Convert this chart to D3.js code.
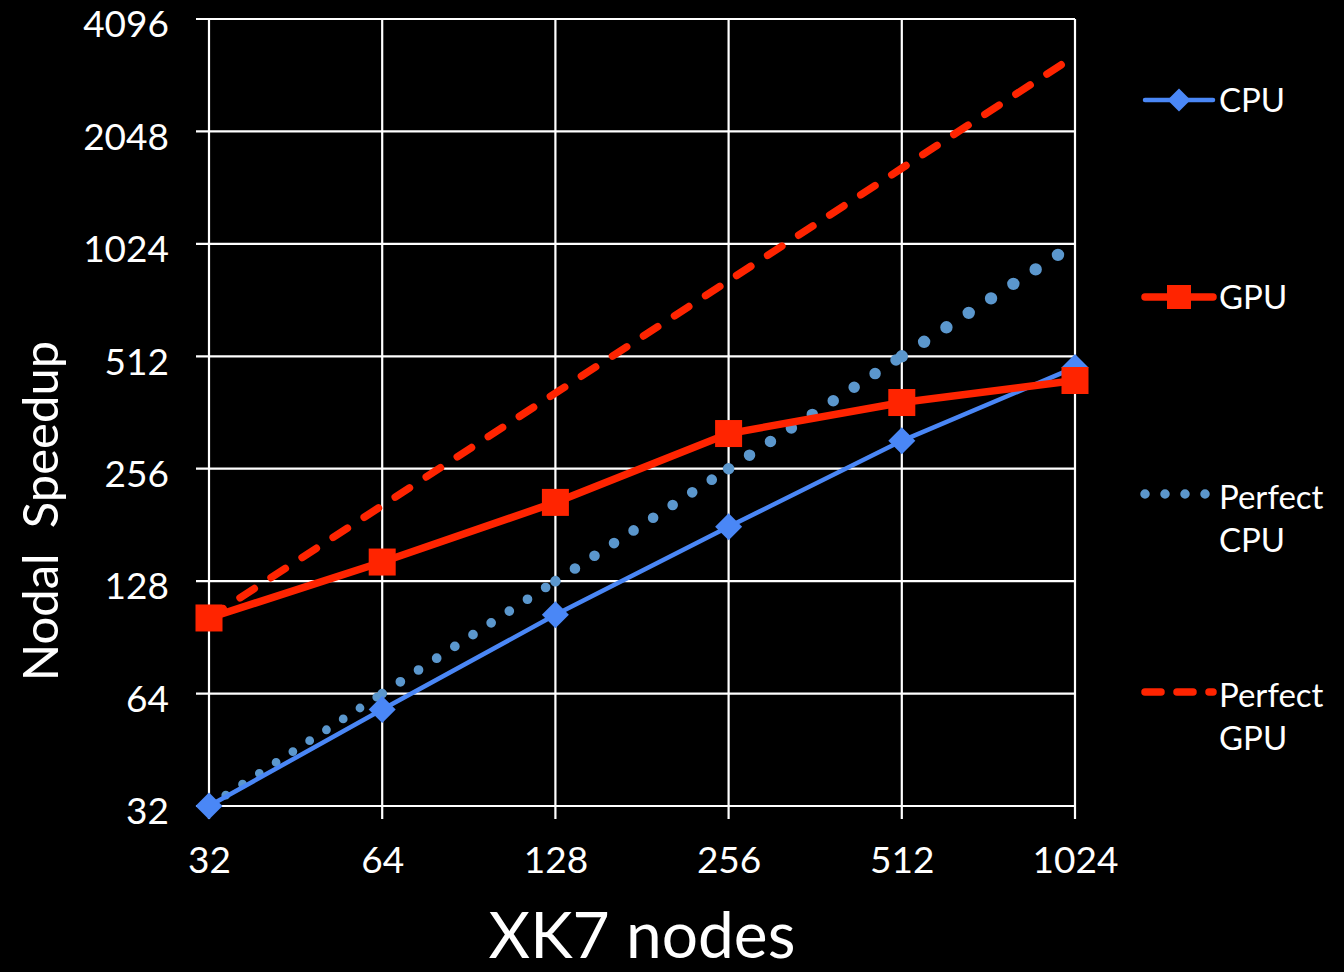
<!DOCTYPE html>
<html>
<head>
<meta charset="utf-8">
<script src="https://cdn.jsdelivr.net/npm/d3@7"></script>
<style>
  html, body { margin: 0; padding: 0; background: #000; }
  svg { display: block; font-family: Lato, "Open Sans", sans-serif; }
</style>
</head>
<body>
<svg id="chart" width="1344" height="972"></svg>
<script>
// XK7 node counts and measured nodal speedups
const nodes = [32, 64, 128, 256, 512, 1024];
const cpuSpeedup = [32, 58, 104, 179, 304, 478];
const gpuSpeedup = [102, 144, 208, 318, 385, 441];
// ideal scaling from the 32-node baseline of each series
const perfectCpu = [32, 64, 128, 256, 512, 1024];
const perfectGpu = [102, 204, 408, 816, 1632, 3264];
const yTicks = [32, 64, 128, 256, 512, 1024, 2048, 4096];
const legendLabels = [["CPU"], ["GPU"], ["Perfect", "CPU"], ["Perfect", "GPU"]];

const BLUE = "#4A87F6", DOT = "#5B97CD", RED = "#FF2400";

const svg = d3.select("#chart");
const plotL = 209, plotR = 1075, plotT = 19, plotB = 806;

const x = d3.scaleLog().base(2).domain([32, 1024]).range([plotL, plotR]);
const y = d3.scaleLog().base(2).domain([32, 4096]).range([plotB, plotT]);

// grid
const grid = svg.append("g").attr("stroke", "#fff").attr("stroke-width", 2.2);
grid.selectAll(".gx").data(nodes).join("line")
  .attr("x1", d => x(d)).attr("x2", d => x(d))
  .attr("y1", plotT).attr("y2", plotB + 13);
grid.selectAll(".gy").data(yTicks).join("line")
  .attr("x1", plotL - 13).attr("x2", plotR)
  .attr("y1", d => y(d)).attr("y2", d => y(d));

// axes (labels only; the grid carries the lines)
const xAxis = svg.append("g").attr("transform", `translate(0,${plotB})`)
  .call(d3.axisBottom(x).tickValues(nodes).tickFormat(d3.format("d")).tickSize(0).tickPadding(41));
const yAxis = svg.append("g").attr("transform", `translate(${plotL},0)`)
  .call(d3.axisLeft(y).tickValues(yTicks).tickFormat(d3.format("d")).tickSize(0).tickPadding(40));
[xAxis, yAxis].forEach(a => {
  a.select(".domain").remove();
  a.selectAll("text").attr("fill", "#fff").attr("font-size", 37).attr("font-family", "Lato, sans-serif");
});
yAxis.selectAll("text").attr("dy", "0.48em");
xAxis.selectAll("text").attr("dy", "0.71em");

// axis titles
svg.append("text").attr("x", 642).attr("y", 958).attr("text-anchor", "middle")
  .attr("fill", "#fff").attr("font-size", 64).text("XK7 nodes");
svg.append("text").attr("transform", "translate(58,511) rotate(-90)").attr("text-anchor", "middle")
  .attr("fill", "#fff").attr("font-size", 49).attr("xml:space", "preserve").text("Nodal  Speedup");

const line = d3.line().x(d => x(d[0])).y(d => y(d[1]));
const pairs = vals => nodes.map((n, i) => [n, vals[i]]);

// perfect GPU (dashed)
svg.append("path").datum(pairs(perfectGpu)).attr("d", line)
  .attr("fill", "none").attr("stroke", RED).attr("stroke-width", 7.5)
  .attr("stroke-linecap", "round").attr("stroke-dasharray", "17 20");

// perfect CPU (round dots, drawn one segment at a time)
const pc = pairs(perfectCpu);
d3.range(pc.length - 1).forEach(i => {
  svg.append("path").datum([pc[i], pc[i + 1]]).attr("d", line)
    .attr("fill", "none").attr("stroke", DOT).attr("stroke-width", 8.8 + i * 0.9)
    .attr("stroke-linecap", "round").attr("stroke-dasharray", `0 ${20 + i * 1.65}`);
});

// CPU series
svg.append("path").datum(pairs(cpuSpeedup)).attr("d", line)
  .attr("fill", "none").attr("stroke", BLUE).attr("stroke-width", 4.5);
const diamond = s => `M0,${-s}L${s},0L0,${s}L${-s},0Z`;
svg.selectAll(".cpuPt").data(pairs(cpuSpeedup)).join("path")
  .attr("d", diamond(13.5)).attr("fill", BLUE)
  .attr("transform", d => `translate(${x(d[0])},${y(d[1])})`);

// GPU series
svg.append("path").datum(pairs(gpuSpeedup)).attr("d", line)
  .attr("fill", "none").attr("stroke", RED).attr("stroke-width", 7.5);
svg.selectAll(".gpuPt").data(pairs(gpuSpeedup)).join("rect")
  .attr("x", d => x(d[0]) - 13.5).attr("y", d => y(d[1]) - 13.5)
  .attr("width", 27).attr("height", 27).attr("fill", RED);

// legend
const legend = svg.append("g");
const ly = [100, 297, 494, 692];
const lx0 = 1145, lx1 = 1213, tx = 1219;
// CPU
legend.append("line").attr("x1", lx0).attr("x2", lx1).attr("y1", ly[0]).attr("y2", ly[0])
  .attr("stroke", BLUE).attr("stroke-width", 4.5).attr("stroke-linecap", "round");
legend.append("path").attr("d", diamond(11.5)).attr("fill", BLUE)
  .attr("transform", `translate(${(lx0 + lx1) / 2},${ly[0]})`);
// GPU
legend.append("line").attr("x1", lx0).attr("x2", lx1).attr("y1", ly[1]).attr("y2", ly[1])
  .attr("stroke", RED).attr("stroke-width", 7.5).attr("stroke-linecap", "round");
legend.append("rect").attr("x", (lx0 + lx1) / 2 - 12).attr("y", ly[1] - 12)
  .attr("width", 24).attr("height", 24).attr("fill", RED);
// Perfect CPU
legend.append("line").attr("x1", lx0).attr("x2", lx1 - 6).attr("y1", ly[2]).attr("y2", ly[2])
  .attr("stroke", DOT).attr("stroke-width", 9.5).attr("stroke-linecap", "round")
  .attr("stroke-dasharray", "0 20");
// Perfect GPU
legend.append("line").attr("x1", lx0).attr("x2", lx1).attr("y1", ly[3]).attr("y2", ly[3])
  .attr("stroke", RED).attr("stroke-width", 7.5).attr("stroke-linecap", "round")
  .attr("stroke-dasharray", "16 16");

legendLabels.forEach((lines, i) => {
  const t = legend.append("text").attr("x", tx).attr("y", ly[i] + 12)
    .attr("fill", "#fff").attr("font-size", 33);
  lines.forEach((s, j) => t.append("tspan").attr("x", tx).attr("dy", j === 0 ? 0 : 43).text(s));
  if (lines.length > 1) t.attr("y", ly[i] + 15);
});
</script>
</body>
</html>
